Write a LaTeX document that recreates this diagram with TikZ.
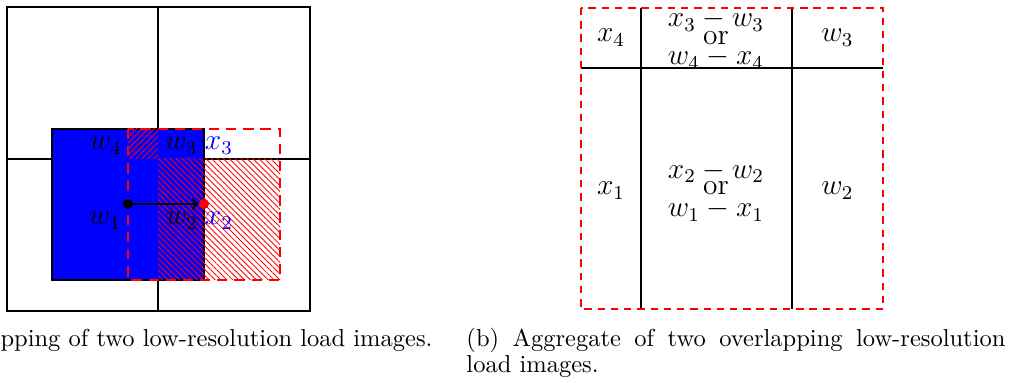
\documentclass[tikz,border=0pt]{standalone}
\usetikzlibrary{patterns.meta}
\begin{document}
\begin{tikzpicture}[x=0.408pt,y=-0.408pt,
  gridline/.style={line width=0.9pt},
  thinline/.style={line width=0.8pt},
  reddashA/.style={draw=red,line width=0.9pt,dash pattern=on 4.2pt off 2.8pt},
  reddashB/.style={draw=red,line width=0.85pt,dash pattern=on 3pt off 2.4pt},
  hatchNE/.style={pattern={Lines[angle=45,distance=1.7pt,line width=0.35pt]},pattern color=red},
  hatchNW/.style={pattern={Lines[angle=-45,distance=1.7pt,line width=0.35pt]},pattern color=red},
  lbl/.style={font=\large,inner sep=0pt,anchor=base},
  dotnode/.style={circle,inner sep=0pt,minimum size=4.1pt},
  captext/.style={inner sep=0pt}]
\useasboundingbox (0,0) rectangle (1012,383);
\clip (0,0) rectangle (1012,383);
% ---------- left figure ----------
\draw[gridline] (7,7) rectangle (310,311);
\draw[gridline] (158,7) -- (158,311);
\draw[gridline] (7,159) -- (310,159);
\filldraw[fill=blue,draw=black,gridline] (52,129) rectangle (204,280);
\fill[hatchNE] (128,129) rectangle (158,159);
\fill[hatchNW] (158,159) rectangle (280,280);
\draw[reddashA] (128,129) rectangle (280,280);
\node[lbl] (w4) at (106,150) {$w_4$};
\node[lbl] (w3) at (181.5,150) {$w_3$};
\node[lbl,text=blue] (x3) at (219,150) {$x_3$};
\node[lbl] (w1) at (105,225) {$w_1$};
\node[lbl] (w2) at (182,225) {$w_2$};
\node[lbl,text=blue] (x2) at (219,225) {$x_2$};
\node[dotnode,fill=black] (p) at (128,204) {};
\node[dotnode,fill=red] (q) at (204,204) {};
\draw[->,line width=0.9pt] (p) -- (q);
% ---------- right figure ----------
\draw[thinline] (641,8) -- (641,309);
\draw[thinline] (792,8) -- (792,309);
\draw[thinline] (581,68) -- (883,68);
\draw[reddashB] (581,8) rectangle (883,309);
\node[lbl] (rx4) at (611,41.7) {$x_4$};
\node[lbl] (rw3) at (837.5,42) {$w_3$};
\node[lbl] (t1) at (716,26.7) {$x_3 - w_3$};
\node[lbl] (t2) at (716,44.3) {or};
\node[lbl] (t3) at (716,65) {$w_4 - x_4$};
\node[lbl] (rx1) at (611,195) {$x_1$};
\node[lbl] (rw2) at (837.5,195) {$w_2$};
\node[lbl] (m1) at (716,178.3) {$x_2 - w_2$};
\node[lbl] (m2) at (716,195) {or};
\node[lbl] (m3) at (716,216.7) {$w_1 - x_1$};
% ---------- captions ----------
\node[captext,anchor=base east] (capa) at (433,346.5) {(a) Overlapping of two low-resolution load images.};
\node[captext,anchor=base west] (capb1) at (466,346.5) {\makebox[219.9pt][s]{(b) Aggregate of two overlapping low-resolution}};
\node[captext,anchor=base west] (capb2) at (466,373) {load images.};
\end{tikzpicture}
\end{document}
